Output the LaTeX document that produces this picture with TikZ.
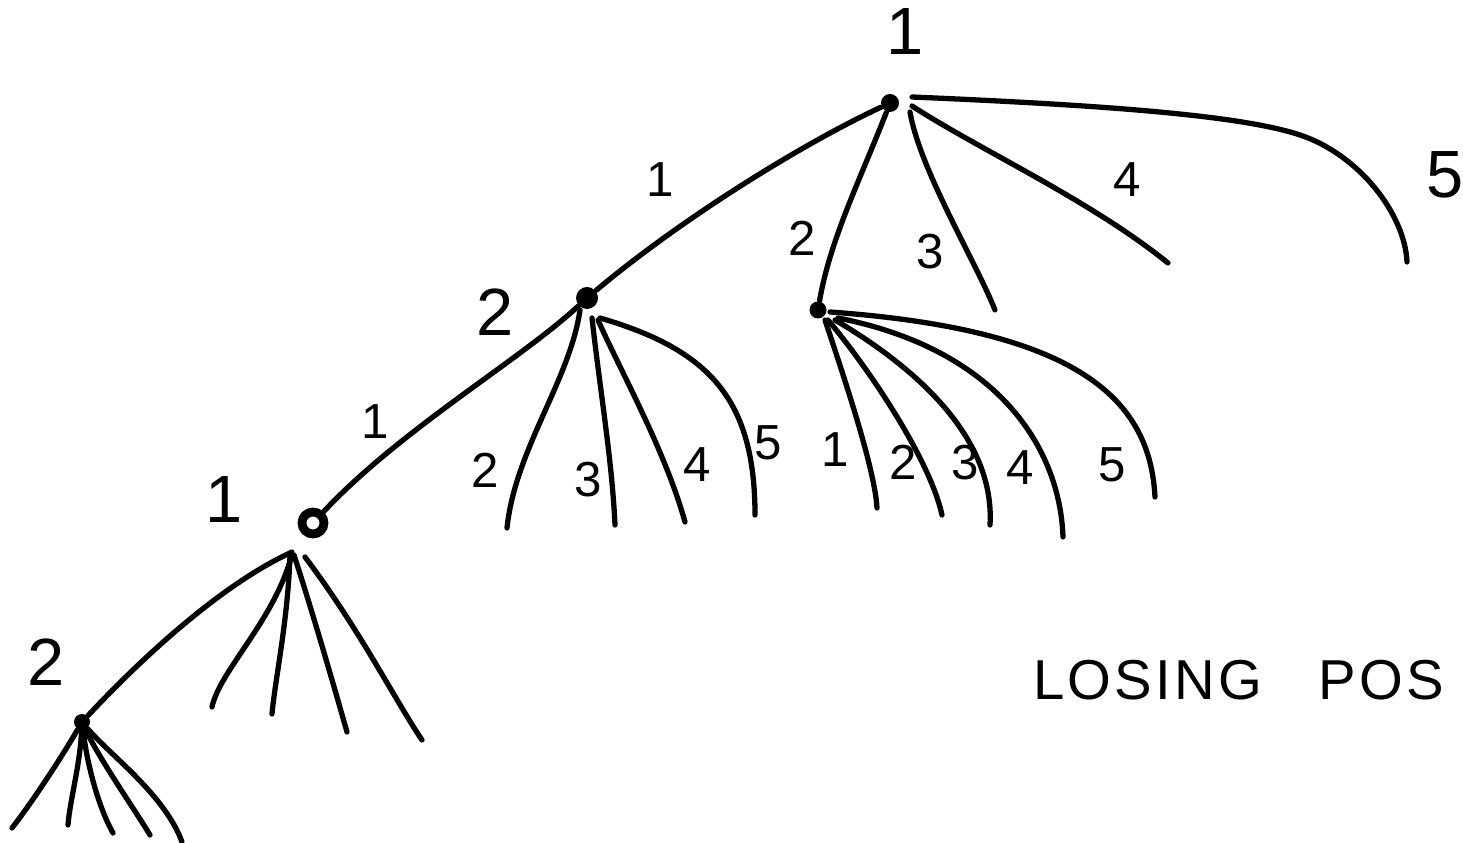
\documentclass[tikz,border=0pt]{standalone}
\usepackage{fontspec}
\setmainfont{Liberation Sans}
\usepackage{tikz}
\usetikzlibrary{calc, positioning}
\tikzset{
	every node/.style={
		font=\fontsize{13}{15}\selectfont
	},
	position/.style={
		shape=circle,
		fill=black,
		inner sep=0pt,
		minimum size=0.18cm
	},
	ring/.style={
		shape=circle,
		draw=black,
		line width=2.5pt,
		inner sep=0pt,
		minimum size=0.22cm
	},
	player/.style={
		font=\fontsize{19}{21}\selectfont
	},
	move/.style={
		font=\fontsize{14}{16}\selectfont
	},
	branch/.style={
		line width=1.5pt,
		line cap=round
	}
}

\begin{document}
\begin{tikzpicture}[x=0.01cm,y=-0.01cm,semithick]
	\useasboundingbox (0,0) rectangle (1463,843);

	% positions
	\node[position] (root) at (890,103) {};
	\node[position, minimum size=0.22cm] (b) at (587,298) {};
	\node[position, minimum size=0.17cm] (c) at (818,310) {};
	\node[ring] (d) at (313,523) {};
	\node[position, minimum size=0.16cm] (e) at (82,722) {};

	% whose turn
	\node[player] (pa) at (905,32) {1};
	\node[player] (pb) at (495,312) {2};
	\node[player] (pd) at (224,500) {1};
	\node[player] (pe) at (46,662) {2};

	% loose ends
	\coordinate (r3) at (995,310);
	\coordinate (r4) at (1168,263);
	\coordinate (r5) at (1407,262);
	\coordinate (b2) at (507,528);
	\coordinate (b3) at (615,525);
	\coordinate (b4) at (685,522);
	\coordinate (b5) at (755,515);
	\coordinate (c1) at (877,508);
	\coordinate (c2) at (942,515);
	\coordinate (c3) at (990,525);
	\coordinate (c4) at (1063,537);
	\coordinate (c5) at (1155,497);
	\coordinate (d2) at (212,707);
	\coordinate (d3) at (272,714);
	\coordinate (d4) at (347,732);
	\coordinate (d5) at (422,740);
	\coordinate (e1) at (12,828);
	\coordinate (e2) at (68,825);
	\coordinate (e3) at (113,833);
	\coordinate (e4) at (150,835);
	\coordinate (e5) at (182,842);

	% top level
	\draw[branch] (root) .. controls (800,145) and (680,220) .. (b);
	\draw[branch] (root) .. controls (860,180) and (830,240) .. (c);
	\draw[branch] (910,112) .. controls (920,170) and (975,260) .. (r3);
	\draw[branch] (912,106) .. controls (980,150) and (1090,200) .. (r4);
	\draw[branch] (912,97) .. controls (1100,105) and (1240,115) .. (1300,135)
		.. controls (1360,155) and (1405,215) .. (r5);

	% below b
	\draw[branch] (b) .. controls (520,360) and (400,430) .. (d);
	\draw[branch] (580,310) .. controls (570,380) and (515,450) .. (b2);
	\draw[branch] (592,318) .. controls (600,390) and (612,460) .. (b3);
	\draw[branch] (598,320) .. controls (620,370) and (665,450) .. (b4);
	\draw[branch] (600,318) .. controls (710,350) and (755,400) .. (b5);

	% below c
	\draw[branch] (825,320) .. controls (845,380) and (875,470) .. (c1);
	\draw[branch] (828,320) .. controls (870,370) and (930,460) .. (c2);
	\draw[branch] (835,320) .. controls (920,370) and (995,440) .. (c3);
	\draw[branch] (838,318) .. controls (1000,350) and (1060,450) .. (c4);
	\draw[branch] (830,312) .. controls (1080,330) and (1150,400) .. (c5);

	% below d
	\draw[branch] (292,552) .. controls (220,585) and (140,660) .. (e);
	\draw[branch] (292,554) .. controls (275,620) and (220,670) .. (d2);
	\draw[branch] (290,555) .. controls (288,620) and (275,680) .. (d3);
	\draw[branch] (294,555) .. controls (315,620) and (335,690) .. (d4);
	\draw[branch] (305,557) .. controls (360,630) and (395,700) .. (d5);

	% below e
	\draw[branch] (e) .. controls (60,760) and (30,805) .. (e1);
	\draw[branch] (e) .. controls (80,765) and (70,800) .. (e2);
	\draw[branch] (e) .. controls (88,770) and (100,810) .. (e3);
	\draw[branch] (e) .. controls (100,760) and (135,810) .. (e4);
	\draw[branch] (e) .. controls (110,755) and (165,795) .. (e5);

	% moves
	\node[move] (m1) at (660,180) {1};
	\node[move] (m2) at (802,238) {2};
	\node[move] (m3) at (930,252) {3};
	\node[move] (m4) at (1127,180) {4};
	\node[move, player] (m5) at (1445,175) {5};
	\node[move] (mb1) at (375,422) {1};
	\node[move] (mb2) at (485,470) {2};
	\node[move] (mb3) at (588,480) {3};
	\node[move] (mb4) at (697,465) {4};
	\node[move] (mb5) at (768,443) {5};
	\node[move] (mc1) at (835,450) {1};
	\node[move] (mc2) at (903,462) {2};
	\node[move] (mc3) at (965,463) {3};
	\node[move] (mc4) at (1020,468) {4};
	\node[move] (mc5) at (1112,465) {5};

	\node[anchor=west, inner sep=0pt, font=\fontsize{16}{18}\selectfont\addfontfeature{LetterSpace=6}] (lose) at (1032,680) {LOSING\quad POS};
\end{tikzpicture}
\end{document}
